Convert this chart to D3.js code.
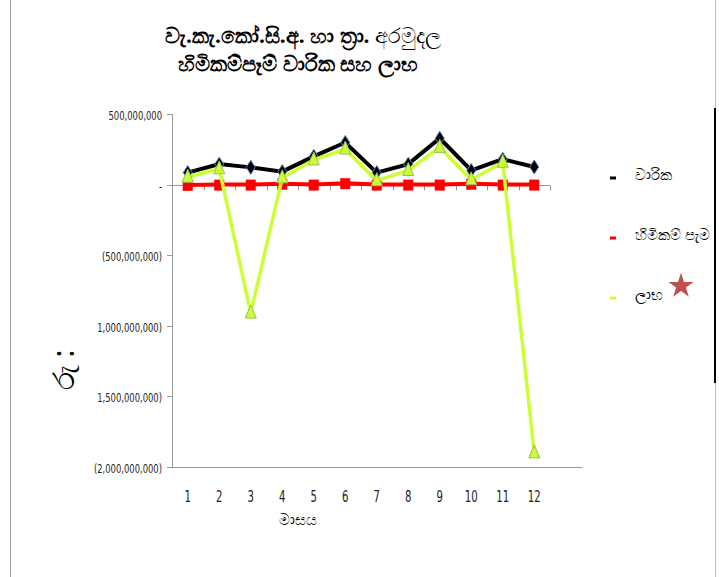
<!DOCTYPE html>
<html>
<head>
<meta charset="utf-8">
<script src="https://cdn.jsdelivr.net/npm/d3@7"></script>
<style>
  body { margin: 0; background: #fff; }
  svg { display: block; }
  .tick-lbl { font-family: "DejaVu Sans Condensed", "Liberation Sans", sans-serif; font-size: 13px; fill: #222; }
</style>
</head>
<body>
<div id="chart"></div>
<script>
// months, series values (rupees)
var months = [1, 2, 3, 4, 5, 6, 7, 8, 9, 10, 11, 12];
var premium = [85e6, 145e6, 122e6, 92e6, 200e6, 298e6, 85e6, 145e6, 328e6, 100e6, 180e6, 125e6];
var claims = [-2e6, 0, 0, 6e6, 0, 10e6, 0, 0, 0, 6e6, 0, 0];
var profit = [52e6, 112e6, -910e6, 48e6, 175e6, 252e6, 28e6, 100e6, 264e6, 34e6, 158e6, -1900e6];
var yTicks = [500e6, 0, -500e6, -1000e6, -1500e6, -2000e6];
var yTickLabels = ["500,000,000", "-", "(500,000,000)", "1,000,000,000)", "1,500,000,000)", "(2,000,000,000)"];
var seriesNames = ["වාරික", "හිමිකම් පැම", "ලාභ"];

var W = 719, H = 577;
var svg = d3.select("#chart").append("svg")
    .attr("width", W)
    .attr("height", H);

// outer frame lines
svg.append("line").attr("x1", 10.5).attr("x2", 10.5).attr("y1", 0).attr("y2", H)
    .attr("stroke", "#999").attr("stroke-width", 1);
svg.append("line").attr("x1", 715.5).attr("x2", 715.5).attr("y1", 0).attr("y2", H)
    .attr("stroke", "#bbb").attr("stroke-width", 1);
svg.append("line").attr("x1", 715).attr("x2", 715).attr("y1", 108).attr("y2", 383)
    .attr("stroke", "#000").attr("stroke-width", 2);

var plot = { left: 172, right: 550, top: 114, bottom: 467 };

var x = d3.scaleBand()
    .domain(months)
    .range([plot.left, plot.right])
    .padding(0);

var y = d3.scaleLinear()
    .domain([-2000e6, 500e6])
    .range([plot.bottom, plot.top]);

// y axis line + ticks
svg.append("line")
    .attr("x1", plot.left + 0.5).attr("x2", plot.left + 0.5)
    .attr("y1", y(500e6)).attr("y2", y(-2000e6))
    .attr("stroke", "#999").attr("stroke-width", 1);

var yt = svg.append("g");
yTicks.forEach(function(v, i) {
    var yy = Math.round(y(v)) + 0.5;
    yt.append("line")
        .attr("x1", plot.left - 5).attr("x2", plot.left)
        .attr("y1", yy).attr("y2", yy)
        .attr("stroke", "#999");
    yt.append("text")
        .attr("class", "tick-lbl")
        .attr("transform", "translate(" + (plot.left - 10) + "," + (yy + 5) + ") scale(0.72,1)")
        .attr("text-anchor", "end")
        .text(yTickLabels[i]);
});

// category axis at zero
var y0 = Math.round(y(0)) + 0.5;
svg.append("line")
    .attr("x1", plot.left).attr("x2", plot.right)
    .attr("y1", y0).attr("y2", y0)
    .attr("stroke", "#999");
var bounds = months.map(function(m) { return x(m); }).concat([plot.right]);
bounds.forEach(function(b) {
    svg.append("line")
        .attr("x1", Math.round(b) + 0.5).attr("x2", Math.round(b) + 0.5)
        .attr("y1", y0).attr("y2", y0 + 5)
        .attr("stroke", "#999");
});

// bottom line
var yb = Math.round(y(-2000e6)) + 0.5;
svg.append("line")
    .attr("x1", plot.left).attr("x2", 582)
    .attr("y1", yb).attr("y2", yb)
    .attr("stroke", "#999");

// month labels
svg.append("g").selectAll("text")
    .data(months)
    .enter().append("text")
    .attr("class", "tick-lbl")
    .attr("transform", function(d) {
        return "translate(" + (x(d) + x.bandwidth() / 2) + ",502) scale(0.75,1)";
    })
    .attr("text-anchor", "middle")
    .style("font-size", "15px")
    .text(function(d) { return d; });

var cx = function(d, i) { return x(months[i]) + x.bandwidth() / 2; };
var lineGen = d3.line()
    .x(cx)
    .y(function(d) { return y(d); });

// premium
svg.append("path").datum(premium)
    .attr("d", lineGen)
    .attr("fill", "none").attr("stroke", "#000").attr("stroke-width", 4);
svg.append("g").selectAll("path")
    .data(premium)
    .enter().append("path")
    .attr("transform", function(d, i) { return "translate(" + cx(d, i) + "," + y(d) + ")"; })
    .attr("d", "M0,-7L4.5,0L0,7L-4.5,0Z")
    .attr("fill", "#000").attr("stroke", "#4f81bd").attr("stroke-width", 1);

// claims
svg.append("path").datum(claims)
    .attr("d", lineGen)
    .attr("fill", "none").attr("stroke", "#ff0000").attr("stroke-width", 4);
svg.append("g").selectAll("rect")
    .data(claims)
    .enter().append("rect")
    .attr("x", function(d, i) { return cx(d, i) - 5; })
    .attr("y", function(d) { return y(d) - 5; })
    .attr("width", 10).attr("height", 11)
    .attr("fill", "#ff0000");

// profit
svg.append("path").datum(profit)
    .attr("d", lineGen)
    .attr("fill", "none").attr("stroke", "#ccff33").attr("stroke-width", 3.5);
svg.append("g").selectAll("path")
    .data(profit)
    .enter().append("path")
    .attr("transform", function(d, i) { return "translate(" + cx(d, i) + "," + y(d) + ")"; })
    .attr("d", "M0,-8L5.5,5L-5.5,5Z")
    .attr("fill", "#ccff33").attr("stroke", "#9bbb59").attr("stroke-width", 1);

// titles
var title = svg.append("text")
    .attr("x", 303).attr("y", 43)
    .attr("text-anchor", "middle")
    .style("font-family", "'Noto Sans', 'DejaVu Sans', sans-serif")
    .style("font-size", "21px")
    .style("font-weight", "bold");
title.append("tspan").text("වැ.කැ.කෝ.සි.අ. හා ත්‍රා. ");
title.append("tspan").style("font-weight", "normal").text("අරමුදල");
svg.append("text")
    .attr("x", 298).attr("y", 71)
    .attr("text-anchor", "middle")
    .style("font-family", "'Noto Sans', 'DejaVu Sans', sans-serif")
    .style("font-size", "21px")
    .style("font-weight", "bold")
    .text("හිමිකම්පෑම් වාරික සහ ලාභ");

// axis titles
svg.append("text")
    .attr("x", 298).attr("y", 525)
    .attr("text-anchor", "middle")
    .style("font-family", "'Noto Sans', sans-serif")
    .style("font-size", "15px")
    .text("මාසය");
svg.append("text")
    .attr("transform", "translate(74,370) rotate(-90)")
    .attr("text-anchor", "middle")
    .style("font-family", "'Noto Sans', sans-serif")
    .style("font-size", "30px")
    .text("රු :");

// legend
var legColors = ["#000", "#ff0000", "#ccff33"];
var legY = [178, 238, 298];
seriesNames.forEach(function(n, i) {
    svg.append("rect")
        .attr("x", 610).attr("y", legY[i] - 1.5)
        .attr("width", 6).attr("height", 3)
        .attr("fill", legColors[i]);
    svg.append("text")
        .attr("x", 635).attr("y", legY[i] + 2)
        .style("font-family", "'Noto Sans', sans-serif")
        .style("font-size", "15px")
        .text(n);
});

// star
var star = d3.symbol().type(d3.symbolStar).size(200);
svg.append("path")
    .attr("d", star())
    .attr("transform", "translate(681,286)")
    .attr("fill", "#c0504d");
</script>
</body>
</html>
